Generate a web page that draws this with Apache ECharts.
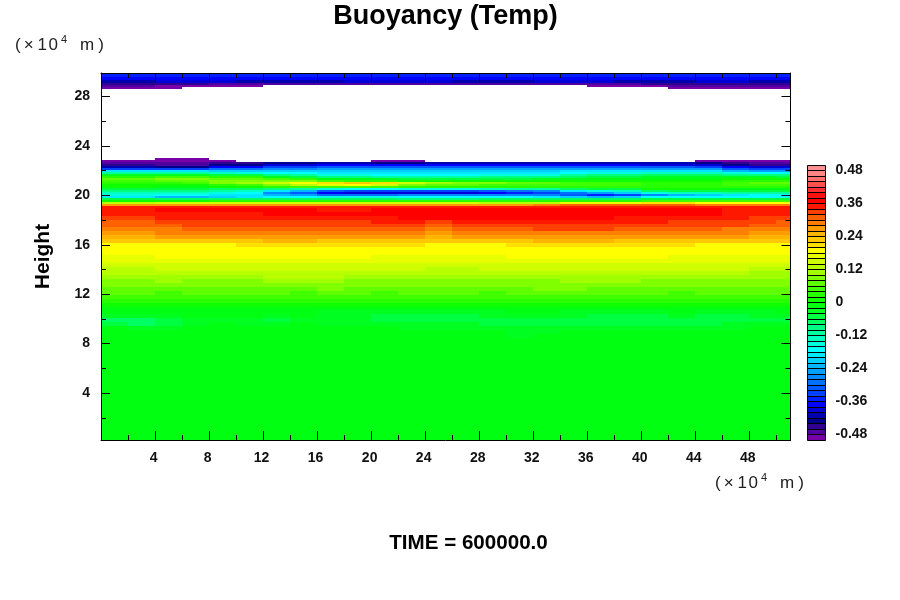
<!DOCTYPE html>
<html><head><meta charset="utf-8">
<style>html,body{margin:0;padding:0;background:#fff}#c{width:900px;height:600px}</style>
<script src="https://cdn.jsdelivr.net/npm/echarts@6/dist/echarts.min.js"></script>
</head><body><div id="c"></div>
<script>
const titleText = 'Buoyancy (Temp)';
const timeText = 'TIME = 600000.0';
const yName = 'Height';
const xMajor = [4,8,12,16,20,24,28,32,36,40,44,48];
const xMinor = [2,6,10,14,18,22,26,30,34,38,42,46,50];
const yMajor = [4,8,12,16,20,24,28];
const yMinor = [2,6,10,14,18,22,26];
const legendLabels = [-0.48,-0.36,-0.24,-0.12,0,0.12,0.24,0.36,0.48];
// one colour per 0.02 band, from -0.50 upward
const bandColors = ['#7800a8','#5000a0','#300090','#000088','#0000b0','#0000d8','#0000ff','#0020ff','#0040ff','#0058ff',
 '#0070ff','#0088ff','#00a0ff','#00b8ff','#00d0ff','#00e8ff','#00ffff','#00ffe0','#00ffc0','#00ffa0',
 '#00ff80','#00ff60','#00ff40','#00ff20','#00ff10','#10ff00','#28ff00','#40ff00','#60ff00','#80ff00',
 '#a0ff00','#b8ff00','#d0ff00','#e8ff00','#ffff00','#ffe000','#ffc800','#ffb400','#ff9c00','#ff8000',
 '#ff6000','#ff4000','#ff1800','#ff0000','#ff1010','#ff3030','#ff5050','#ff7070','#ff8484','#ff9090'];
// column edges (x10^4 m)
const xEdges = [0,2,4,6,8,10,12,14,16,18,20,22,24,26,28,30,32,34,36,38,40,42,44,46,48,50,52];
// row edges (x10^4 m), top to bottom
const topEdges = [29.9,29.6,29.3,29.1,28.9,28.75,28.6];
const midEdges = [23.00,22.84,22.68,22.52,22.36,22.20,22.04,21.88,21.72,21.56,21.40,21.24,21.08,20.92,20.76,20.60,20.44,20.28,20.12,19.96,19.80,19.64,19.48,19.32,19.16,19.00];
const lowEdges = [19.00,18.68,18.36,18.04,17.72,17.40,17.08,16.76,16.44,16.12,15.80,15.48,15.16,14.84,14.52,14.20,13.88,13.56,13.24,12.92,12.60,12.28,11.96,11.64,11.32,11.00,10.68,10.36,10.04,9.72,9.40,9.08,8.76,8.44,8.0,5.0,0.2];
const _ = null;
// buoyancy in hundredths; white where null
const topRows = [
 [-35,-35,-35,-35,-35,-35,-35,-35,-35,-35,-35,-35,-35,-35,-35,-35,-35,-35,-35,-35,-35,-35,-35,-35,-35,-35],
 [-37,-37,-37,-37,-37,-37,-37,-37,-37,-37,-37,-37,-37,-37,-37,-37,-37,-37,-37,-37,-37,-37,-37,-37,-37,-37],
 [-41,-41,-39,-39,-39,-41,-41,-41,-41,-39,-39,-39,-39,-41,-41,-41,-39,-39,-39,-41,-41,-41,-39,-39,-41,-41],
 [-45,-45,-45,-45,-47,-47,-47,-47,-47,-47,-47,-47,-47,-47,-47,-47,-47,-47,-47,-47,-45,-45,-45,-45,-45,-45],
 [-47,-47,-49,-49,-49,-49,_,_,_,_,_,_,_,_,_,_,_,_,-49,-49,-49,-47,-47,-47,-47,-47],
 [-49,-49,-49,_,_,_,_,_,_,_,_,_,_,_,_,_,_,_,_,_,_,-49,-49,-49,-49,-49]
];
const midRows = [
 [_,_,-49,-49,_,_,_,_,_,_,_,_,_,_,_,_,_,_,_,_,_,_,_,_,_,_],
 [-49,-49,-49,-49,-49,_,_,_,_,_,-49,-49,_,_,_,_,_,_,_,_,_,_,-49,-49,-49,-49],
 [-47,-47,-47,-47,-45,-45,-43,-43,-41,-41,-43,-43,-41,-41,-41,-41,-41,-41,-41,-41,-41,-41,-43,-45,-47,-47],
 [-45,-45,-47,-47,-43,-43,-39,-39,-37,-37,-37,-37,-37,-37,-37,-37,-37,-37,-37,-37,-39,-39,-39,-43,-45,-45],
 [-41,-41,-43,-43,-37,-37,-33,-33,-31,-31,-31,-31,-31,-31,-31,-31,-31,-31,-31,-31,-31,-31,-33,-37,-39,-39],
 [-33,-33,-33,-33,-29,-29,-27,-27,-25,-25,-25,-25,-25,-25,-25,-25,-25,-25,-25,-25,-25,-25,-25,-31,-33,-33],
 [-19,-19,-19,-19,-21,-21,-21,-21,-21,-21,-21,-21,-21,-21,-21,-21,-21,-19,-19,-19,-19,-19,-19,-23,-25,-25],
 [-11,-11,-11,-11,-13,-15,-17,-17,-19,-19,-19,-19,-19,-19,-19,-19,-19,-17,-15,-15,-13,-13,-13,-15,-17,-17],
 [-3,-3,-3,-3,-5,-5,-9,-11,-15,-15,-17,-17,-17,-17,-15,-15,-15,-11,-9,-9,-7,-7,-7,-9,-9,-9],
 [3,3,5,5,3,3,-3,-5,-9,-9,-11,-11,-11,-11,-9,-9,-9,-7,-5,-5,-3,-3,-3,-3,-3,-5],
 [7,7,9,9,7,7,5,3,-1,-3,-3,-5,-5,-5,-5,-5,-3,-3,-1,-1,-1,-1,-1,1,1,1],
 [5,5,7,7,9,9,9,9,5,3,3,1,1,1,1,1,1,1,1,1,1,1,1,3,3,3],
 [3,3,3,5,9,11,15,19,21,23,21,15,11,9,9,7,7,5,5,5,3,3,3,5,7,7],
 [1,1,1,1,3,5,9,13,17,19,15,9,7,7,5,5,5,5,5,5,3,3,3,5,5,5],
 [1,1,-1,-1,1,1,3,5,5,5,5,3,3,3,3,3,3,3,3,3,3,3,3,3,3,3],
 [-5,-5,-5,-5,-7,-7,-9,-11,-15,-17,-17,-15,-15,-15,-13,-11,-11,-7,-5,-5,1,1,1,-1,-1,-1],
 [-9,-9,-9,-9,-11,-13,-19,-23,-31,-33,-33,-33,-33,-33,-31,-29,-27,-19,-15,-13,-7,-5,-5,-5,-5,-5],
 [-13,-13,-13,-13,-15,-17,-27,-31,-37,-39,-39,-39,-39,-39,-37,-35,-33,-29,-25,-21,-15,-13,-13,-11,-11,-11],
 [-15,-15,-17,-17,-19,-19,-23,-25,-29,-29,-29,-27,-27,-27,-27,-27,-27,-31,-35,-33,-27,-23,-21,-19,-17,-17],
 [-19,-19,-23,-23,-21,-19,-17,-17,-15,-15,-15,-17,-17,-17,-17,-17,-19,-21,-23,-21,-17,-17,-17,-17,-17,-17],
 [-5,-5,-7,-7,-7,-7,-7,-7,-7,-7,-7,-9,-9,-9,-7,-7,-7,-7,-7,-7,-5,-5,-5,-5,-5,-5],
 [1,1,1,1,3,3,3,3,3,3,3,3,3,3,3,3,3,3,3,3,5,5,5,5,5,5],
 [13,13,15,15,15,15,15,15,15,15,15,15,15,15,13,13,13,17,17,17,21,21,19,19,19,19],
 [27,27,27,27,27,27,27,27,27,27,27,27,27,27,27,27,29,31,31,31,31,31,29,29,29,29],
 [35,35,35,35,35,35,35,35,35,35,35,35,35,35,35,35,35,35,35,35,35,35,35,35,35,35]
];
const lowRows = [
 [35,35,37,37,37,37,37,37,35,35,37,37,37,37,37,37,37,37,37,37,37,37,37,35,35,35],
 [35,35,35,35,35,35,37,37,37,37,37,37,37,37,37,37,37,37,37,37,37,37,37,35,35,35],
 [33,33,35,35,35,35,35,35,35,35,35,37,37,37,37,37,37,37,37,35,35,35,35,35,33,33],
 [31,31,33,33,33,33,33,33,33,33,35,35,33,35,35,35,35,35,35,35,35,33,33,33,33,31],
 [31,31,31,33,33,33,33,33,33,33,33,33,31,33,33,33,33,33,33,33,33,33,33,33,31,31],
 [29,29,29,31,31,31,31,31,31,31,31,31,29,31,31,31,33,33,33,31,31,31,31,29,29,29],
 [27,27,29,29,29,29,29,29,29,29,29,29,27,29,29,29,29,29,29,29,29,29,29,29,27,27],
 [25,25,27,27,27,27,27,27,27,27,27,27,25,27,27,27,27,27,27,27,27,27,27,27,25,25],
 [23,23,23,23,23,23,25,25,23,23,23,23,23,23,23,23,25,25,25,23,23,23,23,23,23,23],
 [19,19,19,19,19,21,21,21,21,21,21,21,19,19,19,21,21,21,21,21,21,21,19,19,19,19],
 [19,19,19,19,19,19,19,19,19,19,19,19,19,19,19,19,19,19,19,19,19,19,19,19,19,19],
 [19,19,19,19,19,19,19,19,19,19,19,19,19,19,19,19,19,19,19,19,19,19,19,19,19,19],
 [17,17,19,19,19,19,19,19,19,19,17,17,17,17,17,19,19,19,19,19,19,17,17,17,17,17],
 [17,17,17,17,17,17,17,17,17,17,17,17,17,17,17,17,17,17,17,17,17,17,17,17,17,17],
 [15,15,15,15,15,15,15,15,15,15,15,15,15,15,15,15,15,15,15,15,15,15,15,15,15,15],
 [13,13,15,15,15,15,15,15,15,15,15,15,13,13,15,15,15,15,15,15,15,15,15,15,13,13],
 [13,13,13,13,13,13,13,13,13,13,13,13,13,13,13,13,13,13,13,13,13,13,13,13,11,11],
 [11,11,11,11,11,11,13,13,13,11,11,11,11,11,11,11,11,11,11,11,11,11,11,11,11,11],
 [9,9,11,9,9,9,11,11,11,9,9,9,9,9,9,9,9,11,11,11,9,9,9,9,9,9],
 [9,9,9,9,9,9,9,9,9,9,9,9,9,9,9,9,9,9,9,9,9,9,9,9,9,9],
 [7,7,7,7,7,7,7,7,9,7,7,7,7,7,7,7,9,9,7,7,7,7,7,7,7,7],
 [7,7,5,7,7,7,7,5,7,7,5,7,7,7,5,7,7,7,7,7,7,5,7,7,7,7],
 [5,5,5,5,5,5,5,5,5,5,5,5,5,5,5,5,5,5,5,5,5,5,5,5,5,5],
 [3,3,3,3,3,3,3,3,3,3,3,3,3,3,3,3,3,3,3,3,3,3,3,3,3,3],
 [1,1,1,1,1,1,1,1,1,1,1,1,1,1,1,1,1,1,1,1,1,1,1,1,1,1],
 [-1,-1,-1,-1,-1,-1,-1,-1,-1,-1,-1,-1,-1,-1,-1,-1,-1,-1,-1,-1,-1,-1,-1,-1,-1,-1],
 [-1,-1,-1,-1,-1,-1,-1,-1,-3,-3,-3,-3,-3,-3,-3,-1,-1,-3,-3,-3,-3,-1,-3,-3,-3,-1],
 [-3,-3,-3,-1,-1,-1,-3,-1,-3,-3,-5,-5,-5,-5,-3,-3,-3,-3,-5,-5,-5,-3,-5,-5,-3,-3],
 [-7,-7,-5,-3,-3,-3,-5,-3,-3,-3,-5,-5,-5,-5,-5,-5,-5,-5,-5,-5,-5,-5,-5,-5,-5,-5],
 [-5,-7,-5,-3,-1,-3,-3,-1,-3,-3,-3,-3,-3,-3,-5,-5,-5,-5,-5,-5,-5,-5,-5,-3,-3,-3],
 [-1,-3,-3,-1,-1,-1,-1,-1,-1,-1,-1,-3,-3,-3,-3,-3,-3,-3,-3,-3,-3,-3,-3,-3,-1,-1],
 [-1,-1,-1,-1,-1,-1,-1,-1,-1,-1,-1,-1,-1,-1,-1,-3,-3,-1,-1,-1,-1,-1,-1,-1,-1,-1],
 [-1,-1,-1,-1,-1,-1,-1,-1,-1,-1,-1,-1,-1,-1,-1,-3,-1,-1,-1,-1,-1,-1,-1,-1,-1,-1],
 [-1,-1,-1,-1,-1,-1,-1,-1,-1,-1,-1,-1,-1,-1,-1,-1,-1,-1,-1,-1,-1,-1,-1,-1,-1,-1],
 [-1,-1,-1,-1,-1,-1,-1,-1,-1,-1,-1,-1,-1,-1,-1,-1,-1,-1,-1,-1,-1,-1,-1,-1,-1,-1],
 [-1,-1,-1,-1,-1,-1,-1,-1,-1,-1,-1,-1,-1,-1,-1,-1,-1,-1,-1,-1,-1,-1,-1,-1,-1,-1]
];

const cells = [];
function addBlock(rows, edges) {
  rows.forEach((row, r) => row.forEach((v, c) => {
    if (v !== null) cells.push([xEdges[c], xEdges[c + 1], edges[r + 1], edges[r], v]);
  }));
}
addBlock(topRows, topEdges);
addBlock(midRows, midEdges);
addBlock(lowRows, lowEdges);
const legendCells = bandColors.map((col, i) => [0, 1, -0.5 + i * 0.02, -0.48 + i * 0.02, i]);
const bandOf = v => bandColors[Math.max(0, Math.min(49, Math.floor((v + 50) / 2)))];

const FONT = '"Liberation Sans", Arial, sans-serif';
const K = '#000';
function side(kind, position, values, labels, len, extra) {
  return Object.assign({
    type: 'value', gridIndex: 0, position, z: 5,
    axisLine: { show: !!labels, onZero: false, lineStyle: { color: K, width: 1 } },
    axisTick: { show: true, inside: true, length: len, customValues: values, lineStyle: { color: K, width: 1 } },
    axisLabel: labels ? { show: true, customValues: values, color: '#111', fontFamily: FONT, fontWeight: 'bold', fontSize: 14, margin: 11, padding: kind === 'x' ? [0, 3, 0, 0] : 0 } : { show: false },
    splitLine: { show: false }
  }, kind === 'x' ? { min: 0, max: 51.05 } : { min: 0.2, max: 29.9 }, extra || {});
}
function unitRich() {
  const a = p => ({ fontFamily: FONT, fontSize: 17, fill: '#222', lineHeight: 20, verticalAlign: 'bottom', padding: [0, p, 0, 0] });
  const s = { fontFamily: FONT, fontSize: 11, fill: '#222', lineHeight: 20, verticalAlign: 'top', padding: [0, 13, 0, 0] };
  return { p: a(3), x: a(4), o: a(1.5), z: a(3), s, m: a(4), q: a(0) };
}
const unitText = '{p|(}{x|×}{o|1}{z|0}{s|4}{m|m}{q|)}';
const option = {
  animation: false,
  backgroundColor: '#fff',
  title: [
    { text: titleText, left: 440.5, top: -2, textAlign: 'center', textStyle: { fontFamily: FONT, fontWeight: 'bold', fontSize: 27, color: '#000' } },
    { text: timeText, left: 463.5, top: 528, textAlign: 'center', textStyle: { fontFamily: FONT, fontWeight: 'bold', fontSize: 20.6, color: '#000' } }
  ],
  grid: [
    { left: 101, top: 73, width: 689.5, height: 367 },
    { left: 807.5, top: 165, width: 18, height: 275 }
  ],
  xAxis: [
    side('x', 'bottom', xMajor, true, 9),
    side('x', 'bottom', xMinor, false, 5),
    side('x', 'top', xMajor, false, 9, { axisLine: { show: true, onZero: false, lineStyle: { color: K, width: 1 } } }),
    side('x', 'top', xMinor, false, 5),
    { type: 'value', gridIndex: 1, min: 0, max: 1, show: false }
  ],
  yAxis: [
    side('y', 'left', yMajor, true, 9, { name: yName, nameLocation: 'middle', nameRotate: 90, nameGap: 47, nameTextStyle: { fontFamily: FONT, fontWeight: 'bold', fontSize: 21, color: '#000' } }),
    side('y', 'left', yMinor, false, 5),
    side('y', 'right', yMajor, false, 9, { axisLine: { show: true, onZero: false, lineStyle: { color: K, width: 1 } } }),
    side('y', 'right', yMinor, false, 5),
    { type: 'value', gridIndex: 1, min: -0.5, max: 0.5, position: 'right',
      axisLine: { show: false }, axisTick: { show: false }, splitLine: { show: false },
      axisLabel: { customValues: legendLabels, margin: 10, color: '#111', fontFamily: FONT, fontWeight: 'bold', fontSize: 14 } }
  ],
  series: [
    { type: 'custom', xAxisIndex: 0, yAxisIndex: 0, clip: true, silent: true, z: 1,
      encode: { x: [0, 1], y: [2, 3] }, data: cells,
      renderItem: (p, api) => {
        const a = api.coord([api.value(0), api.value(3)]).map(Math.round);
        const b = api.coord([api.value(1), api.value(2)]).map(Math.round);
        return { type: 'rect', shape: { x: a[0], y: a[1], width: b[0] - a[0], height: b[1] - a[1] },
          style: { fill: bandOf(api.value(4)) } };
      } },
    { type: 'custom', xAxisIndex: 4, yAxisIndex: 4, silent: true, z: 1,
      encode: { x: [0, 1], y: [2, 3] }, data: legendCells,
      renderItem: (p, api) => {
        const a = api.coord([api.value(0), api.value(3)]).map(v => Math.round(v - 0.5) + 0.5);
        const b = api.coord([api.value(1), api.value(2)]).map(v => Math.round(v - 0.5) + 0.5);
        return { type: 'rect', shape: { x: a[0], y: a[1], width: b[0] - a[0], height: b[1] - a[1] },
          style: { fill: bandColors[api.value(4)], stroke: '#000', lineWidth: 1 } };
      } }
  ],
  graphic: [
    { type: 'text', left: 15, top: 34, z: 10, style: { text: unitText, rich: unitRich() } },
    { type: 'text', left: 715, top: 472, z: 10, style: { text: unitText, rich: unitRich() } }
  ]
};
echarts.init(document.getElementById('c'), null, { renderer: 'canvas' }).setOption(option);
</script></body></html>
